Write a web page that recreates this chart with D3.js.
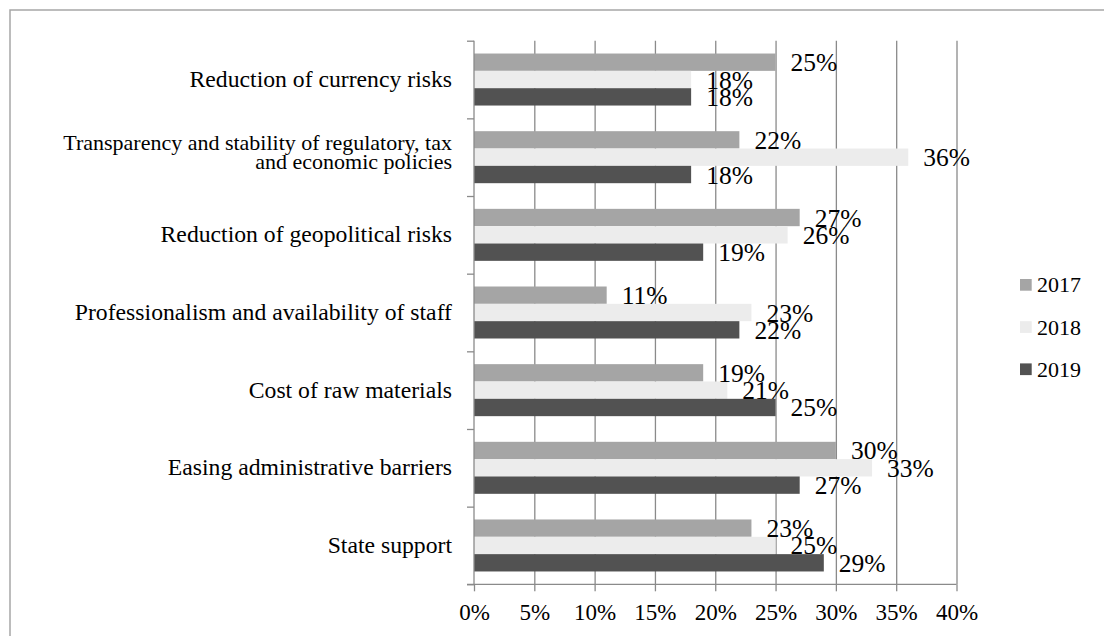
<!DOCTYPE html>
<html lang="en">
<head>
<meta charset="UTF-8">
<title>Investment factors</title>
<style>
  body { margin: 0; background: #fff; }
  svg { display: block; font-family: "Liberation Serif", "Times New Roman", serif; }
</style>
</head>
<body>
<svg id="chart" width="1104" height="636"></svg>
<script src="https://cdnjs.cloudflare.com/ajax/libs/d3/7.8.5/d3.min.js"></script>
<script>
// categories top to bottom, labels split into lines
var categories = [
  ["Reduction of currency risks"],
  ["Transparency and stability of regulatory, tax", "and economic policies"],
  ["Reduction of geopolitical risks"],
  ["Professionalism and availability of staff"],
  ["Cost of raw materials"],
  ["Easing administrative barriers"],
  ["State support"]
];
var series = ["2017", "2018", "2019"];
var values2017 = [0.25, 0.22, 0.27, 0.11, 0.19, 0.30, 0.23];
var values2018 = [0.18, 0.36, 0.26, 0.23, 0.21, 0.33, 0.25];
var values2019 = [0.18, 0.18, 0.19, 0.22, 0.25, 0.27, 0.29];
var xTicks = [0, 0.05, 0.1, 0.15, 0.2, 0.25, 0.3, 0.35, 0.4];

var colors = {"2017": "#a5a5a5", "2018": "#ececec", "2019": "#525252"};
var seriesValues = {"2017": values2017, "2018": values2018, "2019": values2019};

var svg = d3.select("#chart");
var plotLeft = 474, plotRight = 956.5, plotTop = 40.7, plotBottom = 584.3;
var axisColor = "#8a8a8a";

// outer frame (runs past the right and bottom edges)
svg.append("rect")
  .attr("x", 10).attr("y", 10)
  .attr("width", 1200).attr("height", 800)
  .attr("fill", "none").attr("stroke", "#a6a6a6").attr("stroke-width", 1.5);

var x = d3.scaleLinear().domain([0, 0.4]).range([plotLeft, plotRight]);
var catIdx = categories.map((c, i) => i);
var y = d3.scaleBand().domain(catIdx).range([plotTop, plotBottom]);
var ySub = d3.scaleBand().domain(series).range([0, y.bandwidth()]).paddingOuter(0.74);
var yEdge = d3.scaleLinear().domain([0, categories.length]).range([plotTop, plotBottom]);

// gridlines
svg.append("g")
  .attr("transform", `translate(0,${plotBottom})`)
  .call(d3.axisBottom(x).tickValues(xTicks.slice(1)).tickSize(-(plotBottom - plotTop)).tickFormat(""))
  .call(g => g.select(".domain").remove())
  .call(g => g.selectAll("line").attr("stroke", axisColor).attr("stroke-width", 1.3));

// bars
series.forEach(function(s) {
  svg.append("g").selectAll("rect")
    .data(seriesValues[s])
    .join("rect")
      .attr("x", x(0))
      .attr("y", (d, i) => y(i) + ySub(s))
      .attr("width", d => x(d) - x(0))
      .attr("height", ySub.bandwidth())
      .attr("fill", colors[s]);
});

// x axis
var xAxis = svg.append("g")
  .attr("transform", `translate(0,${plotBottom})`)
  .call(d3.axisBottom(x).tickValues(xTicks).tickSize(7).tickFormat(d3.format(".0%")))
  .attr("font-family", null).attr("font-size", null);
xAxis.select(".domain").attr("stroke", axisColor).attr("stroke-width", 1.3).attr("d", `M${plotLeft - 7},0H${plotRight}`);
xAxis.selectAll("line").attr("stroke", axisColor).attr("stroke-width", 1.3);
xAxis.selectAll("text")
  .attr("y", 36).attr("dy", 0)
  .attr("font-size", 23).attr("fill", "#000");

// y axis with ticks between categories
var yAxis = svg.append("g")
  .attr("transform", `translate(${plotLeft},0)`)
  .call(d3.axisLeft(yEdge).tickValues(d3.range(categories.length + 1)).tickSize(7).tickFormat(""));
yAxis.select(".domain").attr("stroke", axisColor).attr("stroke-width", 1.3).attr("d", `M0,${plotTop}V${plotBottom}`);
yAxis.selectAll("line").attr("stroke", axisColor).attr("stroke-width", 1.3);

// category labels
svg.append("g").selectAll("text")
  .data(categories)
  .join("text")
    .attr("text-anchor", "end")
    .attr("font-size", d => d.length > 1 ? 22 : 23.7)
    .attr("fill", "#000")
    .each(function(lines, i) {
      var cy = y(i) + y.bandwidth() / 2;
      var t = d3.select(this);
      if (lines.length === 1) {
        t.append("tspan").attr("x", 452).attr("y", cy + 7.5).text(lines[0]);
      } else {
        t.append("tspan").attr("x", 452).attr("y", cy - 7.2).text(lines[0]);
        t.append("tspan").attr("x", 452).attr("y", cy + 11.8).text(lines[1]);
      }
    });

// data labels
series.forEach(function(s) {
  svg.append("g").selectAll("text")
    .data(seriesValues[s])
    .join("text")
      .attr("x", d => x(d) + 15)
      .attr("y", (d, i) => y(i) + ySub(s) + ySub.bandwidth() / 2 + 9)
      .attr("font-size", 25.5)
      .attr("fill", "#000")
      .text(d => d3.format(".0%")(d));
});

// legend
var legend = svg.append("g").selectAll("g")
  .data(series)
  .join("g")
    .attr("transform", (d, i) => `translate(1020,${279 + i * 42.2})`);
legend.append("rect")
  .attr("width", 11.7).attr("height", 11.7)
  .attr("fill", d => colors[d]);
legend.append("text")
  .attr("x", 17).attr("y", 13.3)
  .attr("font-size", 22)
  .attr("fill", "#000")
  .text(d => d);
</script>
</body>
</html>
